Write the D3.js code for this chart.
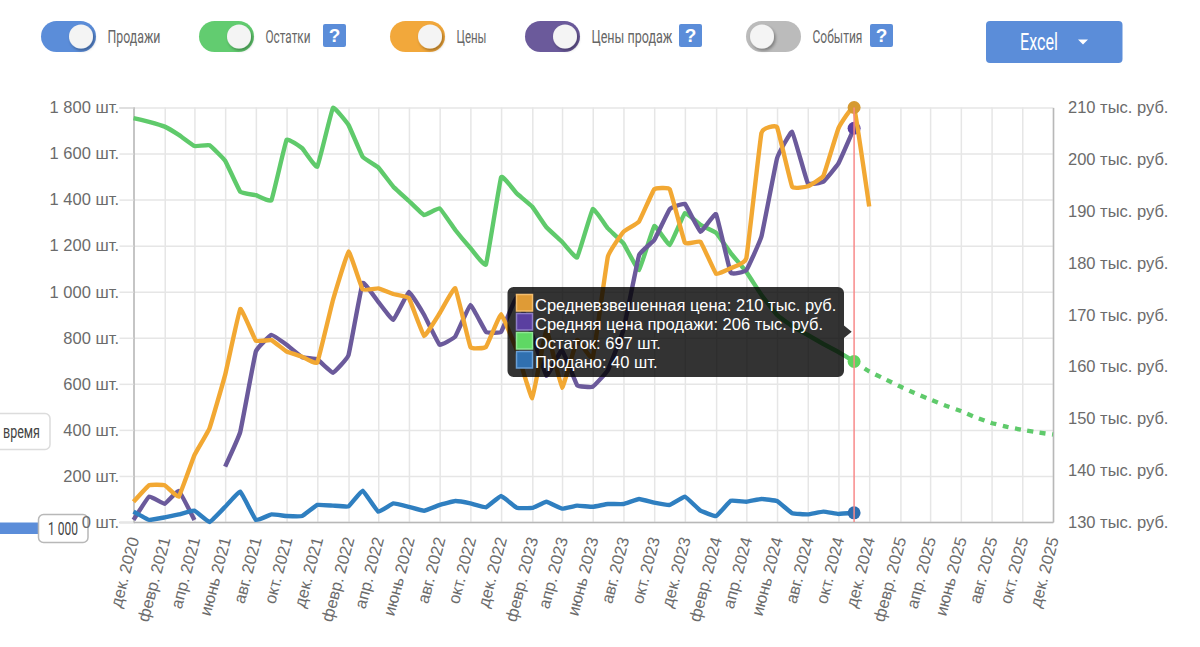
<!DOCTYPE html>
<html lang="ru">
<head>
<meta charset="utf-8">
<title>Продажи, остатки и цены</title>
<script src="https://cdn.jsdelivr.net/npm/d3@7/dist/d3.min.js"></script>
<style>
  html, body { margin: 0; padding: 0; background: #fff; overflow: hidden; }
  svg { display: block; }
  .axis text { font-family: "Liberation Sans", Arial, sans-serif; font-size: 16.5px; fill: #6b6b6b; }
  .condensed { font-family: Roboto, sans-serif; font-size: 18px; fill: #666; }
  .tip text { font-family: "Liberation Sans", Arial, sans-serif; font-size: 16.5px; fill: #fff; }
</style>
</head>
<body>
<svg id="chart" width="1200" height="647"></svg>
<script>
// Monthly series, December 2020 onward
const sold = [45, 9, 20, 33, 49, 0, 66, 132, 9, 33, 26, 26, 74, 71, 68, 136, 45, 81, 66, 49, 74, 91, 81, 64,
  113, 62, 61, 88, 58, 71, 66, 78, 78, 100, 84, 74, 110, 49, 26, 92, 88, 100, 91, 38, 33, 45, 35, 40];
const stock = [1754, 1738, 1717, 1681, 1633, 1636, 1569, 1434, 1419, 1398, 1659, 1623, 1543, 1798, 1724, 1586,
  1540, 1456, 1394, 1333, 1362, 1268, 1190, 1119, 1497, 1427, 1369, 1280, 1217, 1149, 1359, 1275,
  1210, 1094, 1285, 1203, 1341, 1290, 1256, 1168, 1086, 986, 899, 851, 812, 773, 738, 697];
// Projected stock, starting at the last actual month
const stockForecast = [697, 654, 621, 588, 560, 532, 506, 482, 454, 430, 413, 400, 389, 380];
const avgPrice = [133.9, 137.1, 137.1, 134.9, 142.9, 148.1, 158.4, 171.1, 165.0, 165.1, 162.9, 161.9, 160.8,
  172.8, 182.2, 174.9, 175.1, 174.0, 173.2, 165.9, 170.3, 175.1, 163.8, 163.8, 170.1, 163.2, 153.9,
  167.1, 155.9, 165.1, 161.7, 181.2, 186.0, 188.0, 194.2, 194.2, 183.9, 184.1, 177.9, 179.0, 180.9,
  205.1, 206.2, 194.7, 194.8, 196.8, 206.0, 210, 190.9];
const salePrice = [130.4, 134.9, 133.5, 136.0, 130.4, null, 140.7, 147.4, 162.9, 166.1, 164.2, 161.8, 161.4,
  158.8, 162.2, 176.1, 172.5, 169.0, 174.4, 170.0, 164.2, 165.8, 171.9, 166.7, 166.7, 173.4, 166.1,
  158.2, 163.2, 156.4, 156.1, 159.3, 167.1, 181.5, 184.4, 190.4, 191.4, 186.0, 189.4, 178.1, 178.6,
  185.1, 200.2, 205.3, 195.4, 195.7, 199.2, 206];

const monthLabels = ["янв.", "февр.", "март", "апр.", "май", "июнь", "июль", "авг.", "сент.", "окт.", "нояб.", "дек."];
const unitTicks = [0, 200, 400, 600, 800, 1000, 1200, 1400, 1600, 1800];
const priceTicks = [130, 140, 150, 160, 170, 180, 190, 200, 210];
const hoverIndex = 47;

const toggleLabels = ["Продажи", "Остатки", "Цены", "Цены продаж", "События"];
const toggleColors = ["#5b8dd9", "#62cc70", "#f2a83b", "#6b5a9b", "#bbbbbb"];
const toggleStates = [true, true, true, true, false];
const toggleLefts = [41, 199, 390, 525, 746];
const toggleTextWidths = [53, 45, 30, 81, 50];
const helpLefts = [323, 679, 870];

const colors = { sold: "#2f7fc0", stock: "#5fca6b", price: "#f2a833", sale: "#6b5a9b" };

const svg = d3.select("#chart");
const plot = { left: 133.5, right: 1053, top: 107.5, bottom: 522 };

const monthAt = i => new Date(Date.UTC(2020, 11 + i, 1));
const x = d3.scaleUtc().domain([monthAt(0), monthAt(60)]).range([plot.left, plot.right]);
const yUnits = d3.scaleLinear().domain([0, 1800]).range([plot.bottom, plot.top]);
const yPrice = d3.scaleLinear().domain([130, 210]).range([plot.bottom, plot.top]);

const evenMonths = d3.utcMonth.range(monthAt(0), monthAt(61), 1).filter((d, i) => i % 2 === 0);
const spaced = n => d3.format(",")(n).replace(/,/g, " ");

// Narrow text: natural Roboto squeezed horizontally to a given width
const condensedText = (parent, label, left, baseline, width, fill, size) => {
  const t = parent.append("text").attr("class", "condensed").text(label);
  if (fill) t.style("fill", fill);
  if (size) t.style("font-size", size + "px");
  const factor = width / t.node().getComputedTextLength();
  t.attr("transform", `translate(${left},${baseline}) scale(${factor},1)`);
  return t;
};

// Period controls clipped by the left edge
svg.append("rect").attr("x", -30).attr("y", 413.5).attr("width", 80).attr("height", 36).attr("rx", 5)
  .attr("fill", "#fff").attr("stroke", "#dcdcdc").attr("stroke-width", 1.5);
condensedText(svg, "время", 3, 438, 37, "#444");
svg.append("rect").attr("x", 0).attr("y", 522.5).attr("width", 40).attr("height", 11.5).attr("fill", "#5b8dd9");
svg.append("rect").attr("x", 38.5).attr("y", 514.5).attr("width", 49.5).attr("height", 28).attr("rx", 5)
  .attr("fill", "#fff").attr("stroke", "#b8b8b8").attr("stroke-width", 1.5);
condensedText(svg, "1 000", 48, 535, 30, "#444");

// Grid
const grid = svg.append("g");
grid.append("g").attr("transform", `translate(${plot.left},0)`)
  .call(d3.axisLeft(yUnits).tickValues(unitTicks).tickSize(-(plot.right - plot.left)).tickFormat(""))
  .call(g => g.select(".domain").remove());
grid.append("g").attr("transform", `translate(0,${plot.bottom})`)
  .call(d3.axisBottom(x).tickValues(evenMonths).tickSize(-(plot.bottom - plot.top)).tickFormat(""))
  .call(g => g.select(".domain").remove());
grid.selectAll("line").attr("stroke", "#e6e6e6").attr("stroke-width", 1.5);

// Axes
const leftAxis = svg.append("g").attr("class", "axis").attr("transform", `translate(${plot.left},0)`)
  .call(d3.axisLeft(yUnits).tickValues(unitTicks).tickSize(14).tickPadding(0.5).tickFormat(d => spaced(d) + " шт."));
const rightAxis = svg.append("g").attr("class", "axis").attr("transform", `translate(${plot.right},0)`)
  .call(d3.axisRight(yPrice).tickValues(priceTicks).tickSize(0).tickPadding(15).tickFormat(d => d + " тыс. руб."));
const bottomAxis = svg.append("g").attr("class", "axis").attr("transform", `translate(0,${plot.bottom})`)
  .call(d3.axisBottom(x).tickValues(evenMonths).tickSize(0)
    .tickFormat(d => monthLabels[d.getUTCMonth()] + " " + d.getUTCFullYear()));
bottomAxis.selectAll("text")
  .attr("y", 0).attr("dy", 0)
  .attr("text-anchor", "end")
  .attr("transform", "translate(5.5,17) rotate(-75)");
leftAxis.selectAll(".tick line").attr("stroke", "#e6e6e6").attr("stroke-width", 1.5);
[leftAxis, rightAxis, bottomAxis].forEach(a => a.select(".domain").attr("stroke", "#b8b8b8").attr("stroke-width", 1.5));

// Lines
const lineOf = scale => d3.line()
  .defined(d => d != null)
  .x((d, i) => x(monthAt(i)))
  .y(d => scale(d))
  .curve(d3.curveCardinal.tension(0.75));
const forecastLine = d3.line()
  .x((d, i) => x(monthAt(hoverIndex + i)))
  .y(d => yUnits(d))
  .curve(d3.curveCardinal.tension(0.75));

const drawLine = (data, gen, color, dash) => svg.append("path")
  .attr("d", gen(data))
  .attr("fill", "none")
  .attr("stroke", color)
  .attr("stroke-width", 4.4)
  .attr("stroke-linejoin", "round")
  .attr("stroke-dasharray", dash || null);

const hoverX = x(monthAt(hoverIndex));
const marker = (cy, fill) => svg.append("circle")
  .attr("cx", hoverX).attr("cy", cy).attr("r", 6.5).attr("fill", fill);

drawLine(stock, lineOf(yUnits), colors.stock);
drawLine(stockForecast, forecastLine, colors.stock, "6 6.5");
drawLine(salePrice, lineOf(yPrice), colors.sale);
marker(yPrice(salePrice[hoverIndex]), "#5a3fa0");
drawLine(avgPrice, lineOf(yPrice), colors.price);
drawLine(sold, lineOf(yUnits), colors.sold);
marker(yPrice(avgPrice[hoverIndex]), "#d69a32");
marker(yUnits(stock[hoverIndex]), "#5fd45f");
marker(yUnits(sold[hoverIndex]), "#2e6fb0");

// Guide line of the hovered month
svg.append("line")
  .attr("x1", hoverX).attr("x2", hoverX)
  .attr("y1", plot.top).attr("y2", plot.bottom)
  .attr("stroke", "#f88a8a").attr("stroke-width", 1.5);

// Tooltip
const tip = svg.append("g").attr("class", "tip");
tip.append("path")
  .attr("d", "M513.5 287H838a6 6 0 0 1 6 6V325.5L851.7 331.7L844 338V371a6 6 0 0 1 -6 6H513.5a6 6 0 0 1 -6 -6V293a6 6 0 0 1 6 -6Z")
  .attr("fill", "rgba(0,0,0,0.8)");
const tipRows = [
  [`Средневзвешенная цена: ${avgPrice[hoverIndex]} тыс. руб.`, "#df9b36", "#f3bd6d"],
  [`Средняя цена продажи: ${salePrice[hoverIndex]} тыс. руб.`, "#5a3fa0", "#8f7fc6"],
  [`Остаток: ${stock[hoverIndex]} шт.`, "#5fd864", "#8fe894"],
  [`Продано: ${sold[hoverIndex]} шт.`, "#3070b0", "#6a9fd6"]
];
tipRows.forEach(([label, fill, edge], i) => {
  const rowY = 294.5 + i * 19;
  tip.append("rect").attr("x", 516.5).attr("y", rowY).attr("width", 16).attr("height", 16.5)
    .attr("fill", fill).attr("stroke", edge).attr("stroke-width", 1.5);
  tip.append("text").attr("x", 535).attr("y", rowY + 16).text(label);
});

// Toggle row
const defs = svg.append("defs");
const shadow = defs.append("filter").attr("id", "knobShadow")
  .attr("x", "-30%").attr("y", "-30%").attr("width", "170%").attr("height", "170%");
shadow.append("feDropShadow").attr("dx", 1.5).attr("dy", 2).attr("stdDeviation", 1.5)
  .attr("flood-color", "#000").attr("flood-opacity", 0.35);

toggleLabels.forEach((label, i) => {
  const left = toggleLefts[i];
  svg.append("rect").attr("x", left).attr("y", 21).attr("width", 55).attr("height", 31).attr("rx", 15.5)
    .attr("fill", toggleColors[i]);
  svg.append("circle").attr("cx", toggleStates[i] ? left + 40 : left + 16).attr("cy", 36.5).attr("r", 12)
    .attr("fill", "#f4f4f4").attr("filter", "url(#knobShadow)");
  condensedText(svg, label, left + 66.5, 42.5, toggleTextWidths[i]);
});

helpLefts.forEach(left => {
  svg.append("rect").attr("x", left).attr("y", 24).attr("width", 23).attr("height", 23).attr("rx", 2)
    .attr("fill", "#5b8dd9");
  svg.append("text").attr("x", left + 11.5).attr("y", 42).attr("text-anchor", "middle")
    .attr("font-family", "'Liberation Sans', sans-serif").attr("font-weight", 700).attr("font-size", 19)
    .attr("fill", "#fff").text("?");
});

// Export button
svg.append("rect").attr("x", 986).attr("y", 21).attr("width", 136.5).attr("height", 42).attr("rx", 4)
  .attr("fill", "#5b8dd9");
condensedText(svg, "Excel", 1020, 50, 38, "#fff", 23);
svg.append("path").attr("d", "M1078 39.5H1088L1083 44.5Z").attr("fill", "#fff");
</script>
</body>
</html>
